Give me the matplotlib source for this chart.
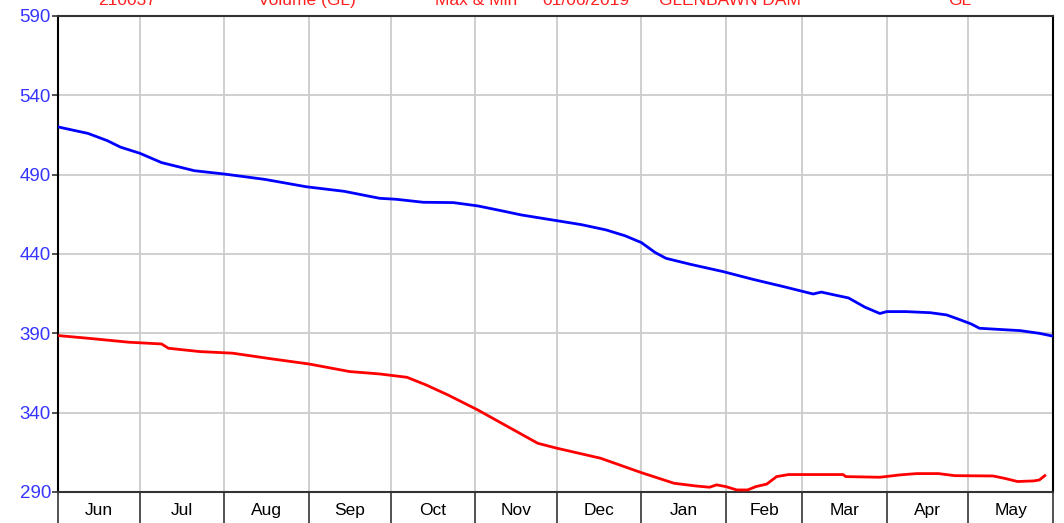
import matplotlib.pyplot as plt
from matplotlib import font_manager

# day offsets from 1 June 2019
month_names = ["Jun", "Jul", "Aug", "Sep", "Oct", "Nov",
               "Dec", "Jan", "Feb", "Mar", "Apr", "May"]
month_days = [30, 31, 31, 30, 31, 30, 31, 31, 28, 31, 30, 31]

max_days = [0, 11, 18, 23, 30, 38, 50, 61, 76, 91, 105, 118, 124, 134,
            145, 154, 162, 170, 183, 192, 201, 208, 214, 219, 223, 232,
            244, 255, 266, 277, 280, 284, 290, 296, 301.5, 304, 311, 320,
            326, 331, 335, 338, 345, 353, 360, 364.5]
max_vals = [520.1, 516.0, 511.5, 507.3, 503.5, 497.6, 492.5, 490.4, 487.0,
            482.4, 479.5, 475.1, 474.5, 472.6, 472.4, 470.3, 467.5, 464.6,
            461.0, 458.5, 455.2, 451.5, 447.2, 441.0, 437.3, 433.5, 428.9,
            424.0, 419.5, 414.8, 416.0, 414.5, 412.3, 406.5, 402.5, 403.7,
            403.7, 403.0, 401.6, 398.5, 395.9, 393.2, 392.5, 391.7, 390.0,
            388.4]

min_days = [0, 11, 26, 38, 40.5, 52, 64, 78, 92, 107, 118, 128, 135,
            143, 154, 165, 176, 183, 199, 214, 226, 234, 239, 241.6, 245,
            249, 253, 256, 260, 263.6, 268, 288, 289, 301.5, 309, 315, 323,
            329, 343, 347, 352, 358, 360, 362]
min_vals = [388.6, 386.9, 384.4, 383.3, 380.6, 378.5, 377.5, 374.0, 370.7,
            365.9, 364.4, 362.3, 357.5, 351.2, 341.7, 331.2, 320.7, 317.6,
            311.3, 302.2, 295.5, 293.8, 293.0, 294.5, 293.4, 291.3, 291.3,
            293.4, 295.0, 299.7, 301.0, 301.0, 299.7, 299.3, 300.8, 301.6,
            301.6, 300.3, 300.1, 298.7, 296.6, 297.0, 297.6, 300.3]

header = ["210037", "Volume (GL)", "Max & Min", "01/06/2019",
          "GLENBAWN DAM", "GL"]
header_x = [127, 307, 476, 586, 730, 960]

y_ticks = [290, 340, 390, 440, 490, 540, 590]


def pick_font(names):
    installed = {f.name for f in font_manager.fontManager.ttflist}
    for n in names:
        if n in installed:
            return n
    return "DejaVu Sans"


def main():
    plt.rcParams["font.family"] = ["Liberation Sans", "DejaVu Sans"]
    narrow = pick_font(["Liberation Sans Narrow", "DejaVu Sans Condensed",
                        "Liberation Sans"])

    fig = plt.figure(figsize=(10.64, 5.23), dpi=100)
    ax = fig.add_axes([58 / 1064, 31 / 523, 995 / 1064, 476 / 523])

    bounds = [0]
    for d in month_days:
        bounds.append(bounds[-1] + d)
    centers = [(a + b) / 2 for a, b in zip(bounds[:-1], bounds[1:])]

    ax.plot(max_days, max_vals, color="#0000ff", lw=2.0, zorder=3)
    ax.plot(min_days, min_vals, color="#ff0000", lw=2.0, zorder=3)

    ax.set_xlim(0, 365)
    ax.set_ylim(290, 590)

    ax.set_xticks(bounds)
    ax.set_xticklabels([])
    ax.set_xticks(centers, minor=True)
    ax.set_xticklabels(month_names, minor=True, fontsize=12.5, family=narrow)
    ax.tick_params(axis="x", which="major", direction="out", length=23,
                   width=1.2, color="#333333")
    ax.tick_params(axis="x", which="minor", length=0, pad=8)

    ax.set_yticks(y_ticks)
    ax.set_yticklabels([str(v) for v in y_ticks], fontsize=13.5,
                       color="#3535ff")
    ax.tick_params(axis="y", direction="out", length=4, width=1.2,
                   pad=1, color="#333333")

    ax.grid(True, which="major", color="#cccccc", lw=1.3, zorder=0)
    for side in ["left", "right"]:
        ax.spines[side].set_color("black")
        ax.spines[side].set_linewidth(1.5)
    for side in ["top", "bottom"]:
        ax.spines[side].set_color("#333333")
        ax.spines[side].set_linewidth(1.5)

    # header row sits mostly above the canvas, as in the source image
    for txt, x in zip(header, header_x):
        fig.text(x / 1064, 1 - 5 / 523, txt, color="#ff2020", fontsize=12.5,
                 ha="center", va="baseline")

    fig.savefig("out.png", dpi=100)


if __name__ == "__main__":
    main()
